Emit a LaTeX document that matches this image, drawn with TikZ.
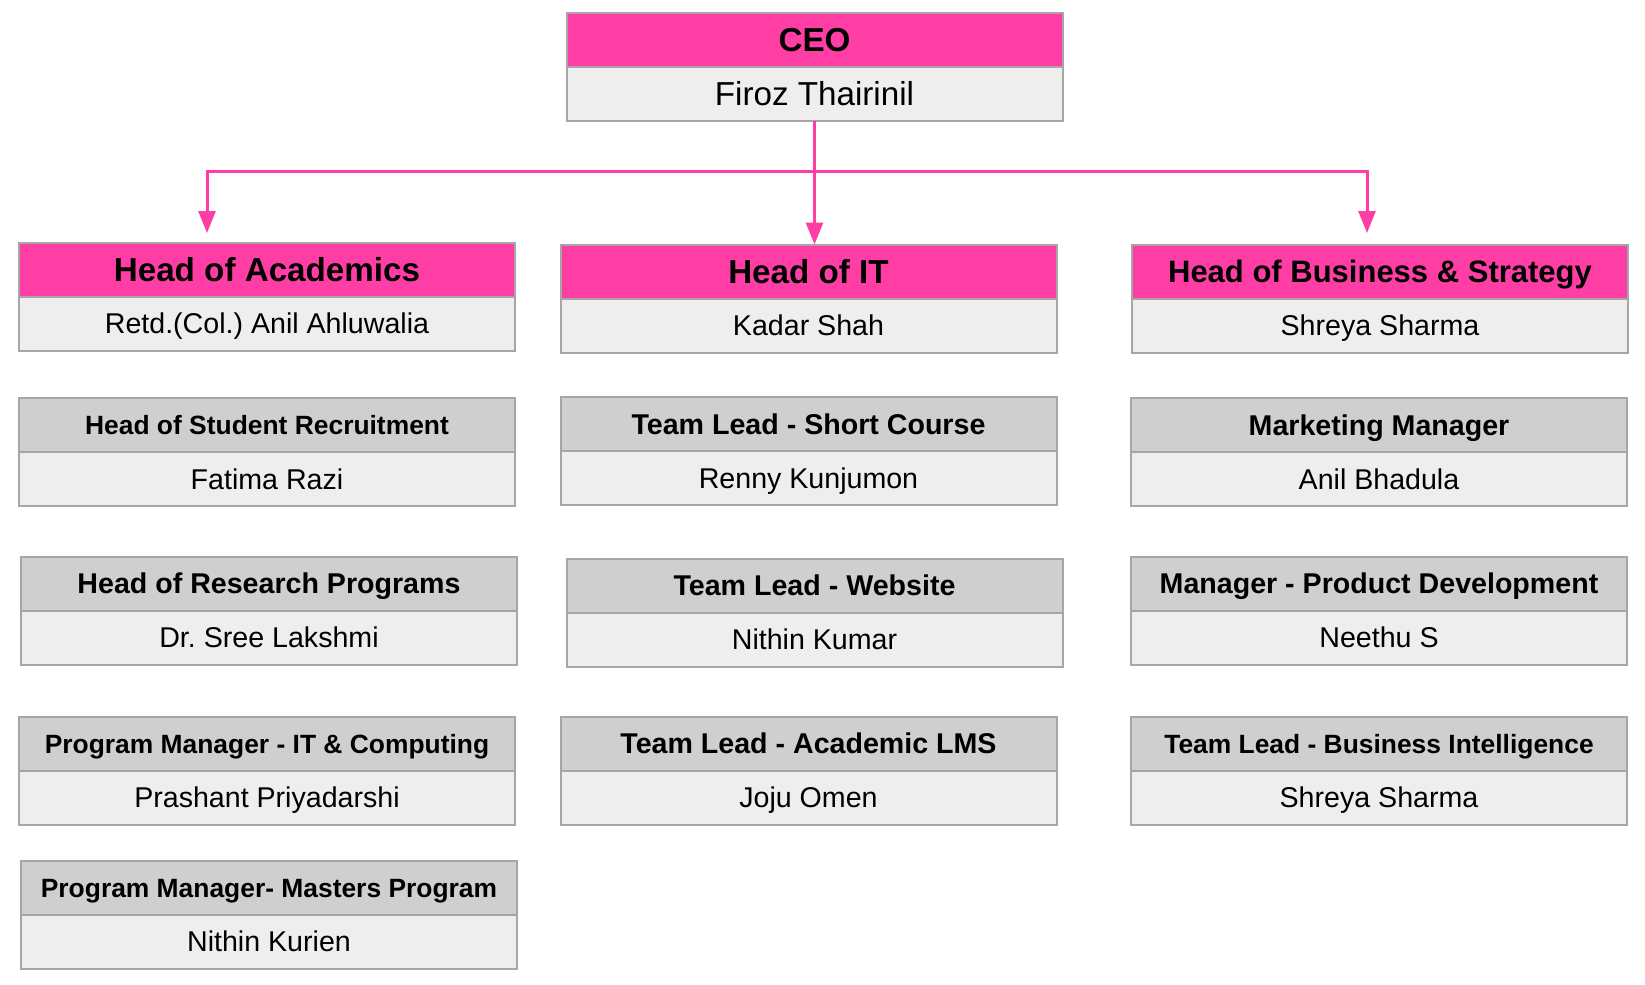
\documentclass[tikz,border=0pt]{standalone}
\usepackage{fontspec}
\setmainfont{Liberation Sans}
\frenchspacing
\usetikzlibrary{positioning,arrows.meta}

\definecolor{hotpink}{HTML}{FF3EA5}
\definecolor{postgray}{HTML}{CFCFCF}
\definecolor{namegray}{HTML}{EEEEEE}
\definecolor{boxline}{HTML}{A6A6A6}

\tikzset{
  box/.style={draw=boxline, line width=1pt, minimum width=248pt, minimum height=27pt,
    inner sep=0pt, outer sep=0pt, text depth=0pt},
  chief/.style={box, fill=hotpink, font=\fontsize{16.6}{18}\selectfont\bfseries, text height=11.8pt},
  post/.style={box, fill=postgray, font=\fontsize{14.3}{16}\selectfont\bfseries, text height=10.2pt},
  postsmall/.style={post, font=\fontsize{13.2}{15}\selectfont\bfseries, text height=9.5pt},
  holder/.style={box, fill=namegray, font=\fontsize{14.3}{16}\selectfont, text height=10.2pt, below=0pt of #1},
  link/.style={draw=hotpink, line width=1.5pt, -{Triangle[length=11pt,width=8.5pt]}}
}

\begin{document}
\begin{tikzpicture}[x=0.5pt, y=-0.5pt]
\useasboundingbox (0,0) rectangle (1645,985);

% top
\node[chief] (ceo) at (814.5,40) {CEO};
\node[holder=ceo, font=\fontsize{16.6}{18}\selectfont, text height=11.8pt] (ceoname) {Firoz Thairinil};

% heads
\node[chief] (acad) at (267,269.5) {Head of Academics};
\node[holder=acad] (acadname) {Retd.(Col.) Anil Ahluwalia};
\node[chief] (it) at (808.5,271.5) {Head of IT};
\node[holder=it] (itname) {Kadar Shah};
\node[chief, font=\fontsize{15.5}{17}\selectfont\bfseries, text height=11.1pt] (biz) at (1380,271.5) {Head of Business \& Strategy};
\node[holder=biz] (bizname) {Shreya Sharma};

% academics column
\node[postsmall] (recruit) at (267,425) {Head of Student Recruitment};
\node[holder=recruit] (recruitname) {Fatima Razi};
\node[post] (research) at (269,583.5) {Head of Research Programs};
\node[holder=research] (researchname) {Dr. Sree Lakshmi};
\node[postsmall] (pmit) at (267,743.5) {Program Manager - IT \& Computing};
\node[holder=pmit] (pmitname) {Prashant Priyadarshi};
\node[postsmall] (pmmasters) at (269,887.5) {Program Manager- Masters Program};
\node[holder=pmmasters] (pmmastersname) {Nithin Kurien};

% IT column
\node[post] (shortcourse) at (808.5,424) {Team Lead - Short Course};
\node[holder=shortcourse] (shortcoursename) {Renny Kunjumon};
\node[post] (website) at (814.5,585.5) {Team Lead - Website};
\node[holder=website] (websitename) {Nithin Kumar};
\node[post] (lms) at (808.5,743.5) {Team Lead - Academic LMS};
\node[holder=lms] (lmsname) {Joju Omen};

% business column
\node[post] (marketing) at (1379,425) {Marketing Manager};
\node[holder=marketing] (marketingname) {Anil Bhadula};
\node[post] (product) at (1379,583.5) {Manager - Product Development};
\node[holder=product] (productname) {Neethu S};
\node[postsmall] (bi) at (1379,743.5) {Team Lead - Business Intelligence};
\node[holder=bi] (biname) {Shreya Sharma};

% connectors
\coordinate (hub) at (815,171);
\coordinate (acadin) at (207,233);
\coordinate (bizin) at (1367,233);
\draw[link] (ceoname.south) -- (ceoname.south |- it.north);
\draw[link] (hub) -| (acadin);
\draw[link] (hub) -| (bizin);
\end{tikzpicture}
\end{document}
